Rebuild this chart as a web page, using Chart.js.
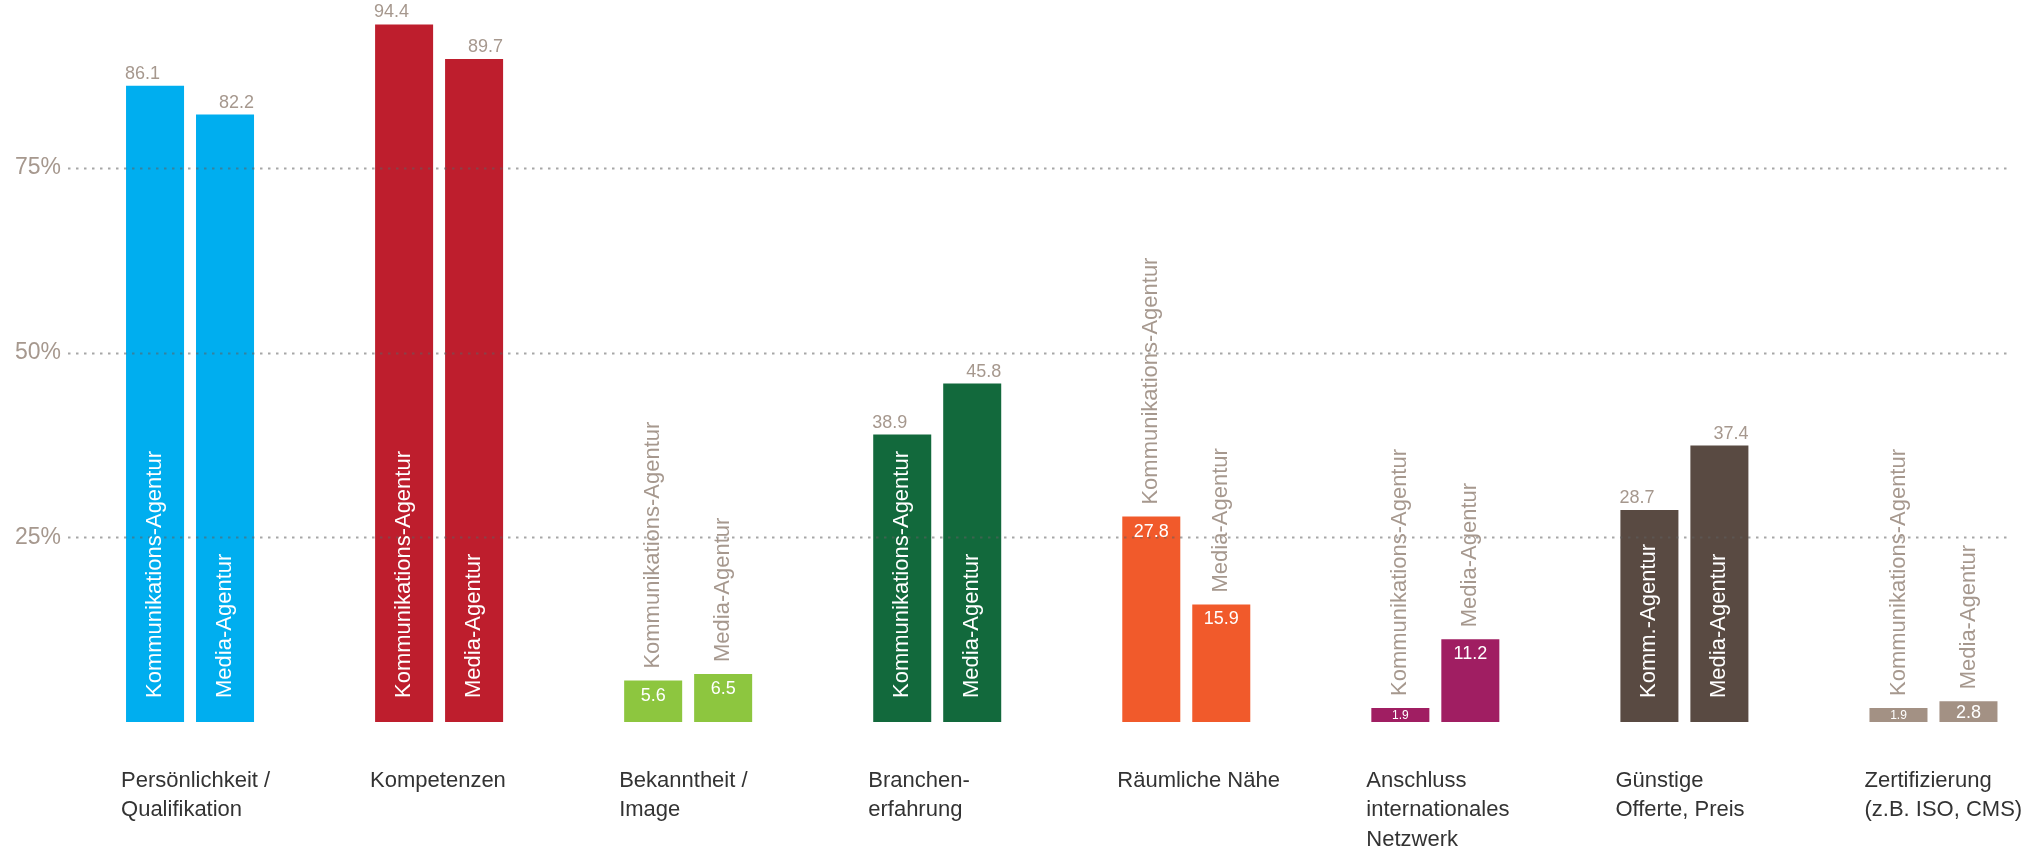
<!DOCTYPE html>
<html>
<head>
<meta charset="utf-8">
<script src="https://cdn.jsdelivr.net/npm/chart.js@4.4.0/dist/chart.umd.min.js"></script>
<style>
    html, body { margin: 0; padding: 0; background: #fff; overflow: hidden; width: 2037px; height: 848px; }
    /* canvas slightly larger than the window: the plot area runs past the right and top edges */
    #wrap { position: absolute; left: 0; top: -17px; width: 2058px; height: 865px; }
</style>
</head>
<body>
<div id="wrap"><canvas id="chart"></canvas></div>
<script>
// Auswahlkriterien Agentur – Anteil in Prozent

const categories = [
    ['Persönlichkeit /', 'Qualifikation'],
    ['Kompetenzen'],
    ['Bekanntheit /', 'Image'],
    ['Branchen-', 'erfahrung'],
    ['Räumliche Nähe'],
    ['Anschluss', 'internationales', 'Netzwerk'],
    ['Günstige', 'Offerte, Preis'],
    ['Zertifizierung', '(z.B. ISO, CMS)']
];

const kommValues = [86.1, 94.4, 5.6, 38.9, 27.8, 1.9, 28.7, 1.9];
const mediaValues = [82.2, 89.7, 6.5, 45.8, 15.9, 11.2, 37.4, 2.8];

const kommNames = [
    'Kommunikations-Agentur', 'Kommunikations-Agentur', 'Kommunikations-Agentur',
    'Kommunikations-Agentur', 'Kommunikations-Agentur', 'Kommunikations-Agentur',
    'Komm.-Agentur', 'Kommunikations-Agentur'
];
const mediaNames = categories.map(() => 'Media-Agentur');

// true: Wert in den Balken, Name darüber
const valueInside = [false, false, true, false, true, true, false, true];

const barColors = ['#00aeef', '#be1e2d', '#8dc63f', '#12693c', '#f15a2b', '#a01e62', '#594a42', '#a39184'];

const yTicks = [25, 50, 75];

const FONT = '"Liberation Sans", Arial, sans-serif';
const GREY = '#a6988e';

// dotted grid lines, drawn over the bars
const dottedGrid = {
    id: 'dottedGrid',
    afterDatasetsDraw(chart) {
        const ctx = chart.ctx;
        const y = chart.scales.y;
        ctx.save();
        ctx.strokeStyle = 'rgba(95, 95, 95, 0.55)';
        ctx.lineWidth = 2;
        ctx.setLineDash([2.5, 5.5]);
        yTicks.forEach(v => {
            const py = Math.round(y.getPixelForValue(v)) + 0.5;
            ctx.beginPath();
            ctx.moveTo(chart.chartArea.left + 2.5, py);
            ctx.lineTo(2011, py);
            ctx.stroke();
        });
        ctx.restore();
    }
};

// value labels and rotated series names
const barLabels = {
    id: 'barLabels',
    afterDatasetsDraw(chart) {
        const ctx = chart.ctx;
        const base = chart.scales.y.getPixelForValue(0);
        chart.data.datasets.forEach((ds, d) => {
            chart.getDatasetMeta(d).data.forEach((bar, i) => {
                const left = bar.x - bar.width / 2;
                const right = bar.x + bar.width / 2;
                const top = bar.y;
                const h = base - top;
                const name = d === 0 ? kommNames[i] : mediaNames[i];
                const value = ds.data[i].toFixed(1);

                ctx.save();
                if (valueInside[i]) {
                    ctx.fillStyle = '#fff';
                    ctx.textAlign = 'center';
                    ctx.textBaseline = 'middle';
                    if (h < 26) {
                        ctx.font = (h < 16 ? 12 : 18) + 'px ' + FONT;
                        ctx.fillText(value, bar.x, top + h / 2 + 1);
                    } else {
                        ctx.font = '18px ' + FONT;
                        ctx.fillText(value, bar.x, top + 15);
                    }
                    ctx.translate(bar.x, Math.min(top - 12, base - 21));
                    ctx.rotate(-Math.PI / 2);
                    ctx.textAlign = 'left';
                    ctx.fillStyle = GREY;
                    ctx.font = '22px ' + FONT;
                    ctx.fillText(name, 0, 0);
                } else {
                    ctx.fillStyle = GREY;
                    ctx.font = '18px ' + FONT;
                    ctx.textBaseline = 'alphabetic';
                    if (d === 0) {
                        ctx.textAlign = 'left';
                        ctx.fillText(value, left - 1, top - 7);
                    } else {
                        ctx.textAlign = 'right';
                        ctx.fillText(value, right, top - 7);
                    }
                    ctx.translate(bar.x, base - 24);
                    ctx.rotate(-Math.PI / 2);
                    ctx.textAlign = 'left';
                    ctx.textBaseline = 'middle';
                    ctx.fillStyle = '#fff';
                    ctx.font = '22px ' + FONT;
                    ctx.fillText(name, 0, 0);
                }
                ctx.restore();
            });
        });
    }
};

// category labels, left aligned under each bar group
const categoryLabels = {
    id: 'categoryLabels',
    afterDraw(chart) {
        const ctx = chart.ctx;
        const base = chart.scales.y.getPixelForValue(0);
        const meta = chart.getDatasetMeta(0);
        ctx.save();
        ctx.fillStyle = '#333';
        ctx.font = '22px ' + FONT;
        ctx.textAlign = 'left';
        ctx.textBaseline = 'alphabetic';
        categories.forEach((lines, i) => {
            const bar = meta.data[i];
            const x = bar.x - bar.width / 2 - 5;
            lines.forEach((line, k) => {
                ctx.fillText(line, x, base + 65 + k * 29.3);
            });
        });
        ctx.restore();
    }
};

const ctx = document.getElementById('chart').getContext('2d');

new Chart(ctx, {
    type: 'bar',
    data: {
        labels: categories.map(c => c.join(' ')),
        datasets: [{
            label: 'Kommunikations-Agentur',
            data: kommValues,
            backgroundColor: barColors,
            borderWidth: 0,
            categoryPercentage: 0.562,
            barPercentage: 0.829
        }, {
            label: 'Media-Agentur',
            data: mediaValues,
            backgroundColor: barColors,
            borderWidth: 0,
            categoryPercentage: 0.562,
            barPercentage: 0.829
        }]
    },
    options: {
        responsive: true,
        maintainAspectRatio: false,
        animation: false,
        layout: {
            padding: { left: 0, right: 0, top: 0, bottom: 126 }
        },
        plugins: {
            legend: { display: false },
            tooltip: { enabled: false }
        },
        scales: {
            x: {
                display: false
            },
            y: {
                min: 0,
                max: 100,
                afterFit: scale => {
                    scale.width = 65.5;
                    scale.paddingTop = 0;
                    scale.paddingBottom = 0;
                },
                afterBuildTicks: scale => { scale.ticks = yTicks.map(v => ({ value: v })); },
                grid: { display: false, drawTicks: false },
                border: { display: false },
                ticks: {
                    padding: 4.5,
                    color: GREY,
                    font: { family: FONT, size: 23 },
                    callback: v => v + '%'
                }
            }
        }
    },
    plugins: [dottedGrid, barLabels, categoryLabels]
});
</script>
</body>
</html>
